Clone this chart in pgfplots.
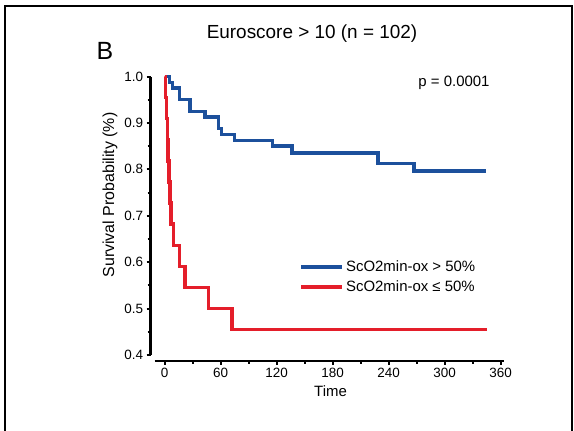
\documentclass[border=0pt]{standalone}
\usepackage{pgfplots}
\pgfplotsset{compat=1.18}
\usepackage{fontspec}
\setmainfont{Liberation Sans}
\definecolor{kmblue}{RGB}{28,80,156}
\definecolor{kmred}{RGB}{228,30,42}
\begin{document}
\begin{tikzpicture}[x=1bp,y=1bp]
\path[use as bounding box] (0,0) rectangle (574,430);
\draw[line width=2bp] (5,-2) -- (5,424) -- (571.5,424) -- (571.5,-2);
\begin{axis}[
  at={(150.5bp,75.1bp)}, anchor=south west,
  scale only axis, width=351.9bp, height=278.4bp,
  xmin=-15, xmax=362, ymin=0.4, ymax=1.0,
  axis lines=left, axis x line shift=6bp,
  axis line style={line width=2.5bp, -},
  x axis line style={shorten <=4bp, shorten >=-2bp},
  xtick={0,60,120,180,240,300,360}, minor xtick={30,90,150,210,270,330},
  ytick={0.4,0.5,0.6,0.7,0.8,0.9,1.0}, minor ytick={0.45,0.55,0.65,0.75,0.85,0.95},
  tick align=outside, major tick length=4bp, minor tick length=3bp,
  tick style={black, line width=2bp},
  tick label style={font=\fontsize{13.5}{15}\selectfont},
  /pgf/number format/assume math mode=true,
  yticklabel style={/pgf/number format/.cd, fixed, fixed zerofill, precision=1},
  xticklabel style={/pgf/number format/.cd, fixed, precision=0},
  clip=false,
  legend style={draw=none, fill=none, at={(axis cs:144,0.607)}, anchor=north west,
    inner sep=0pt, row sep=3bp, font=\fontsize{15}{16}\selectfont,
    /tikz/every even column/.append style={column sep=4bp}},
  legend cell align=left,
  legend image code/.code={\draw[#1, line width=4bp] (0bp,0bp) -- (41bp,0bp);},
]
\addplot[kmblue, line width=3.5bp, const plot] coordinates {
 (0,1) (5.3,0.9875) (8.8,0.975) (15.9,0.95) (27.5,0.925) (43.4,0.9125)
 (58,0.8875) (61,0.875) (75,0.8625) (115.6,0.85) (136.8,0.835)
 (228.5,0.813) (267.4,0.796) (344,0.796)};
\addlegendentry{ScO2min-ox > 50\%}
\addplot[kmred, line width=3.5bp, const plot] coordinates {
 (0,1) (1,0.955) (2,0.909) (3,0.864) (4,0.818) (5,0.773) (6,0.727) (7,0.682)
 (9.5,0.636) (16,0.591) (22,0.545) (47,0.5) (72.5,0.4545) (345,0.4545)};
\addlegendentry{ScO2min-ox ≤ 50\%}
\end{axis}
\node[font=\fontsize{19}{22}\selectfont] at (312,396) {Euroscore > 10 (n = 102)};
\node[font=\fontsize{25}{28}\selectfont] at (105,379) {B};
\node[font=\fontsize{15}{17}\selectfont] at (454,346.7) {p = 0.0001};
\node[font=\fontsize{15}{17}\selectfont] at (330.5,39.3) {Time};
\node[font=\fontsize{16}{18}\selectfont, rotate=90] at (110,235) {Survival Probability (\%)};
\end{tikzpicture}
\end{document}
